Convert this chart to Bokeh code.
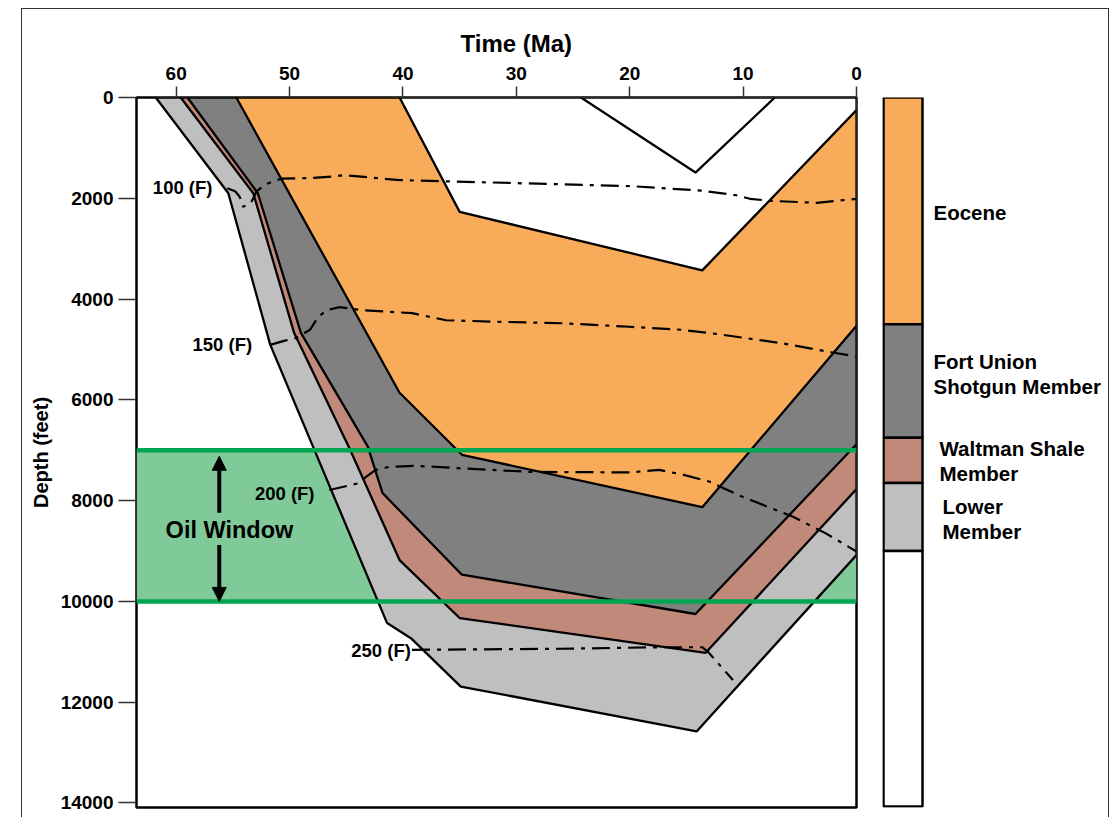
from bokeh.plotting import figure
from bokeh.layouts import row
from bokeh.models import Range1d, FixedTicker, BoxAnnotation, Span, Arrow, NormalHead, Title
from bokeh.core.properties import value
from bokeh.embed import file_html
from bokeh.resources import INLINE

FONT = "Liberation Sans"

# ---- burial history horizons: age (Ma) and depth (ft), oldest point first ----
base_lower_age = [61.8, 55.4, 51.7, 41.4, 39.3, 34.9, 14.1, 0.0]
base_lower_depth = [0, 1900, 4910, 10430, 10730, 11690, 12580, 9080]

base_waltman_age = [59.6, 53.2, 49.6, 44.7, 40.3, 35.0, 13.3, 0.0]
base_waltman_depth = [0, 1900, 4670, 6970, 9180, 10330, 11020, 7770]

base_fort_union_age = [59.0, 52.8, 49.0, 43.1, 41.8, 34.8, 14.2, 0.0]
base_fort_union_depth = [0, 1900, 4670, 6930, 7850, 9470, 10250, 6880]

base_eocene_age = [54.7, 40.3, 34.8, 13.6, 0.0]
base_eocene_depth = [0, 5860, 7090, 8130, 4530]

top_eocene_age = [40.3, 35.0, 13.6, 0.0]
top_eocene_depth = [0, 2270, 3430, 250]

# section deposited and later removed
eroded_age = [24.3, 14.2, 7.2]
eroded_depth = [0, 1490, 0]

# ---- isotherms (deg F) ----
iso100_age = [55.5, 54.8, 54.4, 54.1, 53.4, 52.9, 52.1, 50.7, 48.2, 46.2, 45.2, 40.3,
              33.3, 26.5, 19.8, 13.6, 10.6, 9.4, 7.7, 3.5, 0.0]
iso100_depth = [1800, 1860, 1970, 2170, 2090, 1860, 1720, 1610, 1600, 1570, 1540, 1640,
                1680, 1720, 1760, 1850, 1940, 2010, 2050, 2090, 2010]

iso150_age = [51.7, 50.5, 49.4, 48.2, 47.5, 46.7, 45.6, 43.6, 39.2, 36.2, 31.8, 25.9,
              20.0, 15.4, 12.4, 6.5, 2.1, 0.0]
iso150_depth = [4910, 4830, 4770, 4610, 4360, 4220, 4160, 4220, 4280, 4420, 4450, 4480,
                4550, 4610, 4690, 4880, 5060, 5140]

iso200_age = [46.5, 44.0, 43.2, 42.4, 41.2, 38.8, 34.8, 28.8, 20.0, 17.4, 15.4, 13.0,
              10.1, 5.6, 2.7, 0.0]
iso200_depth = [7790, 7660, 7520, 7390, 7330, 7310, 7360, 7430, 7440, 7390, 7480, 7620,
                7920, 8320, 8650, 9010]

iso250_age = [39.2, 26.2, 17.4, 13.6, 13.1, 10.9]
iso250_depth = [10960, 10940, 10910, 10910, 11000, 11560]

iso_labels = ["100 (F)", "150 (F)", "200 (F)", "250 (F)"]
iso_label_age = [56.8, 53.3, 47.8, 39.3]
iso_label_depth = [1780, 4910, 7850, 10980]

# ---- oil window (ft) ----
oil_window_top = 7000
oil_window_base = 10000

# ---- present-day stratigraphic column ----
column_names = ["Eocene", "Fort Union\nShotgun Member", "Waltman Shale\nMember", "Lower\nMember"]
column_top = [0, 4500, 6750, 7650, 9000]
column_base = [4500, 6750, 7650, 9000, 14070]
column_colors = ["#F8AB58", "#808080", "#C0897A", "#BFBFBF", "#FFFFFF"]
column_label_depth = [2290, 5490, 7210, 8360]
column_label_x = [51, 51, 57, 60]

time_ticks = [60, 50, 40, 30, 20, 10, 0]
depth_ticks = [0, 2000, 4000, 6000, 8000, 10000, 12000, 14000]

# ------------------------------------------------------------------ main panel
p = figure(width=860, height=808, x_range=Range1d(63.5, 0), y_range=Range1d(14090, 0),
           x_axis_location="above", output_backend="svg", toolbar_location=None,
           min_border_left=114, min_border_right=26, min_border_top=88, min_border_bottom=10,
           background_fill_color="white", border_fill_color="white")
p.grid.visible = False
p.outline_line_color = "black"
p.outline_line_width = 2.5

p.title = Title(text="Time (Ma)", align="left", offset=324,
                text_font=FONT, text_font_size="24px", text_font_style="bold",
                text_color="black", standoff=13)

xa = p.xaxis[0]
xa.ticker = FixedTicker(ticks=time_ticks)
xa.axis_line_color = None
xa.major_tick_out = 11
xa.major_tick_in = 0
xa.minor_tick_line_color = None
xa.major_tick_line_color = "#333333"
xa.major_tick_line_width = 1.5
xa.major_label_text_font = FONT
xa.major_label_text_font_size = "19px"
xa.major_label_text_font_style = "bold"
xa.major_label_text_color = "black"
xa.major_label_standoff = 7

ya = p.yaxis[0]
ya.ticker = FixedTicker(ticks=depth_ticks)
ya.axis_label = "Depth (feet)"
ya.axis_label_text_font = FONT
ya.axis_label_text_font_size = "20px"
ya.axis_label_text_font_style = "bold"
ya.axis_label_text_color = "black"
ya.axis_label_standoff = 6
ya.axis_line_color = None
ya.major_tick_out = 18
ya.major_tick_in = 0
ya.minor_tick_line_color = None
ya.major_tick_line_color = "#333333"
ya.major_tick_line_width = 1.5
ya.major_label_text_font = FONT
ya.major_label_text_font_size = "19px"
ya.major_label_text_font_style = "bold"
ya.major_label_text_color = "black"
ya.major_label_standoff = 5

# oil window shading sits beneath the strata
p.add_layout(BoxAnnotation(top=oil_window_top, bottom=oil_window_base, fill_color="#80CA9A",
                           fill_alpha=1.0, line_color=None, level="underlay"))

# strata: each horizon fills everything above it, deepest first
layers = [
    (base_lower_age, base_lower_depth, "#BFBFBF"),
    (base_waltman_age, base_waltman_depth, "#C0897A"),
    (base_fort_union_age, base_fort_union_depth, "#808080"),
    (base_eocene_age, base_eocene_depth, "#F8AB58"),
    (top_eocene_age, top_eocene_depth, "#FFFFFF"),
]
for ages, depths, color in layers:
    p.patch(ages + [0.0], depths + [0], fill_color=color, line_color="black", line_width=2.3)

p.line(eroded_age, eroded_depth, line_color="black", line_width=2.3)

for ages, depths in [(iso100_age, iso100_depth), (iso150_age, iso150_depth),
                     (iso200_age, iso200_depth), (iso250_age, iso250_depth)]:
    p.line(ages, depths, line_color="black", line_width=2.2, line_dash="18 7 4 7")

p.text(x=iso_label_age, y=iso_label_depth, text=iso_labels, text_align="right",
       text_baseline="middle", text_font=value(FONT), text_font_size="18.5px",
       text_font_style="bold", text_color="black")

for d in (oil_window_top, oil_window_base):
    p.add_layout(Span(location=d, dimension="width", line_color="#00A650", line_width=4.5))

arrow_age = 56.2
p.add_layout(Arrow(x_start=arrow_age, y_start=8240, x_end=arrow_age, y_end=7120,
                   line_width=4, line_color="black",
                   end=NormalHead(size=14, fill_color="black", line_color="black")))
p.add_layout(Arrow(x_start=arrow_age, y_start=8880, x_end=arrow_age, y_end=oil_window_base,
                   line_width=4, line_color="black",
                   end=NormalHead(size=14, fill_color="black", line_color="black")))
p.text(x=[55.3], y=[8590], text=["Oil Window"], text_align="center", text_baseline="middle",
       text_font=value(FONT), text_font_size="23.5px", text_font_style="bold", text_color="black")

# ------------------------------------------------------------------ column key
k = figure(width=226, height=808, x_range=Range1d(0, 226), y_range=Range1d(14090, 0),
           x_axis_location=None, y_axis_location=None, output_backend="svg",
           toolbar_location=None, min_border_left=0, min_border_right=0,
           min_border_top=88, min_border_bottom=10,
           background_fill_color="white", border_fill_color="white")
k.grid.visible = False
k.outline_line_color = None
k.quad(left=1, right=40, top=column_top, bottom=column_base, fill_color=column_colors,
       line_color="black", line_width=2.5)
k.text(x=column_label_x, y=column_label_depth, text=column_names, text_align="left",
       text_baseline="middle", text_font=value(FONT), text_font_size="20.5px",
       text_font_style="bold", text_color="black", text_line_height=1.1)

layout = row(p, k, margin=(8, 0, 0, 21),
             styles={"border": "1.5px solid #333333", "border-bottom": "none"})

open("out.html", "w").write(file_html(layout, INLINE))
